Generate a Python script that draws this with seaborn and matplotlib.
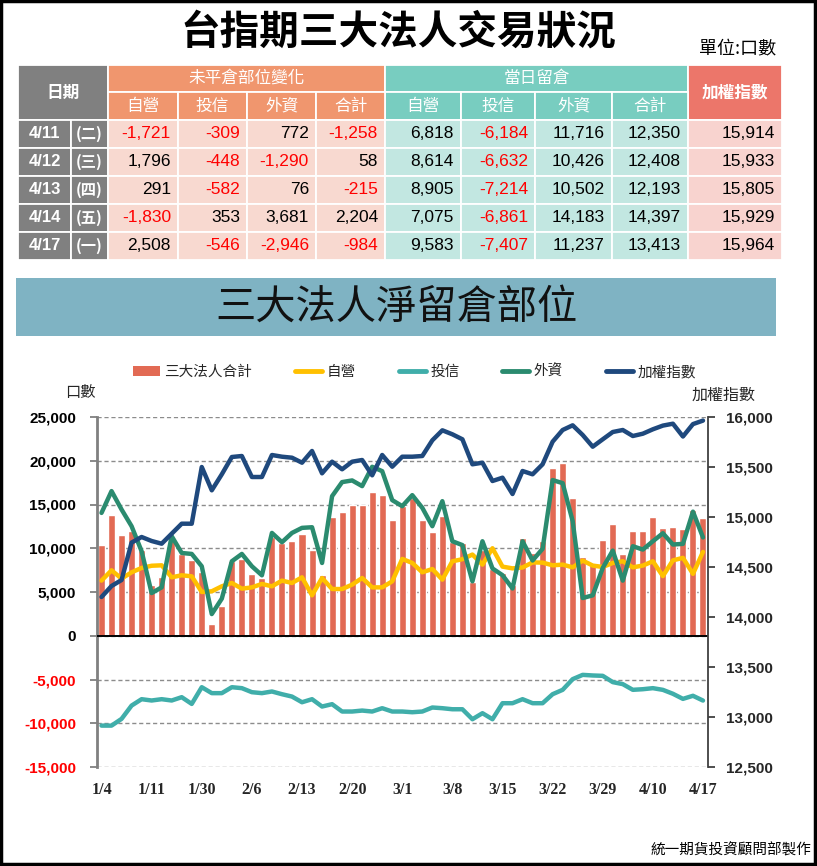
import matplotlib
matplotlib.use("Agg")
import matplotlib.pyplot as plt
import seaborn as sns
from matplotlib.patches import Rectangle, Patch
from matplotlib.lines import Line2D

# ================= DATA =================
dates = ["1/4", "1/5", "1/6", "1/9", "1/10", "1/11", "1/12", "1/13", "1/16", "1/17",
         "1/30", "1/31", "2/1", "2/2", "2/3", "2/6", "2/7", "2/8", "2/9", "2/10",
         "2/13", "2/14", "2/15", "2/16", "2/17", "2/20", "2/21", "2/22", "2/23", "2/24",
         "3/1", "3/2", "3/3", "3/6", "3/7", "3/8", "3/9", "3/10", "3/13", "3/14",
         "3/15", "3/16", "3/17", "3/20", "3/21", "3/22", "3/23", "3/24", "3/27", "3/28",
         "3/29", "3/30", "3/31", "4/6", "4/7", "4/10", "4/11", "4/12", "4/13", "4/14", "4/17"]

# 三大法人合計 (bars)
total_oi = [10400, 13800, 11500, 12000, 9800, 5800, 6700, 11300, 9300, 8700,
            7300, 1300, 3400, 8600, 8800, 7100, 6600, 11300, 10600, 10800,
            11600, 9800, 6900, 13600, 14200, 15000, 15000, 16400, 16100, 13200,
            14800, 15700, 13200, 11900, 13700, 10700, 10600, 6200, 9800, 7600,
            7200, 5800, 11200, 9500, 10800, 19200, 19700, 15700, 9000, 8200,
            11000, 12800, 9400, 12000, 12000, 13600, 12350, 12408, 12193, 14397, 13413]

# 自營
dealer_oi = [6300, 7480, 6530, 7250, 7750, 8000, 8050, 6680, 6910, 6790,
             5000, 5080, 5650, 6030, 5380, 5530, 5920, 5650, 6300, 6030,
             6680, 4620, 6600, 5340, 5340, 5840, 6600, 5530, 5530, 6220,
             8780, 8320, 7250, 7630, 6410, 8510, 8750, 9280, 8130, 10000,
             7900, 7700, 7800, 8380, 8360, 8050, 8130, 7820, 8590, 8020,
             7860, 8320, 8510, 7820, 8020, 8510, 6818, 8614, 8905, 7075, 9583]

# 投信
trust_oi = [-10270, -10270, -9500, -7980, -7250, -7400, -7250, -7400, -7020, -7790,
            -5880, -6560, -6560, -5880, -5990, -6450, -6560, -6370, -6680, -6950,
            -7600, -7250, -8090, -7820, -8660, -8660, -8550, -8660, -8280, -8660,
            -8660, -8740, -8660, -8200, -8280, -8400, -8400, -9540, -8850, -9540,
            -7710, -7710, -7250, -7710, -7710, -6680, -6180, -4960, -4470, -4540,
            -4580, -5300, -5530, -6180, -6110, -5990, -6184, -6632, -7214, -6861, -7407]

# 外資
foreign_oi = [14040, 16530, 14430, 12520, 9660, 4880, 5530, 11380, 9460, 9350,
              7940, 2480, 4240, 8510, 9350, 7940, 6910, 11750, 10690, 11750,
              12330, 12400, 8320, 15950, 17560, 17750, 17100, 19310, 18810, 15500,
              14810, 16070, 14620, 12520, 15380, 10800, 10360, 6220, 10800, 7690,
              6920, 5400, 10800, 8600, 9940, 17790, 17440, 13090, 4310, 4620,
              7750, 9730, 6300, 10230, 9850, 10800, 11716, 10426, 10502, 14183, 11237]

# 加權指數
taiex = [14200, 14310, 14370, 14744, 14800, 14760, 14733, 14833, 14933, 14933,
         15500, 15267, 15427, 15600, 15610, 15400, 15400, 15620, 15603, 15593,
         15543, 15660, 15437, 15553, 15477, 15553, 15570, 15417, 15620, 15503,
         15603, 15603, 15610, 15767, 15867, 15827, 15777, 15527, 15543, 15360,
         15393, 15230, 15460, 15427, 15527, 15753, 15870, 15917, 15820, 15703,
         15777, 15850, 15870, 15810, 15833, 15877, 15914, 15933, 15805, 15929, 15964]

# table
tbl_dates = ["4/11", "4/12", "4/13", "4/14", "4/17"]
tbl_weekdays = ["(二)", "(三)", "(四)", "(五)", "(一)"]
chg_dealer = [-1721, 1796, 291, -1830, 2508]
chg_trust = [-309, -448, -582, 353, -546]
chg_foreign = [772, -1290, 76, 3681, -2946]
chg_total = [-1258, 58, -215, 2204, -984]
oi_dealer = [6818, 8614, 8905, 7075, 9583]
oi_trust = [-6184, -6632, -7214, -6861, -7407]
oi_foreign = [11716, 10426, 10502, 14183, 11237]
oi_total = [12350, 12408, 12193, 14397, 13413]
index_close = [15914, 15933, 15805, 15929, 15964]

sub_headers = ["自營", "投信", "外資", "合計"]

# ================= STYLE =================
sns.set_style("white")
CJK = "Noto Sans CJK TC"
plt.rcParams["font.family"] = [CJK, "DejaVu Sans"]
NUM = ["Liberation Sans Narrow", "Liberation Sans"]

BAR_C = "#E26A54"
DEALER_C = "#FFC000"
TRUST_C = "#40AEAA"
FOREIGN_C = "#2B8B6F"
INDEX_C = "#1F497D"

fig = plt.figure(figsize=(8.17, 8.66), dpi=100)

# background canvas in pixel coords
bg = fig.add_axes([0, 0, 1, 1])
bg.set_xlim(0, 817)
bg.set_ylim(866, 0)
bg.axis("off")

bg.add_patch(Rectangle((1, 1), 814, 863, fill=False, ec="black", lw=2.5))

bg.text(398, 32, "台指期三大法人交易狀況", ha="center", va="center",
        fontsize=28.5, fontweight="bold", color="black")
bg.text(776, 49, "單位:口數", ha="right", va="center", fontsize=13, color="black")

# ================= TABLE =================
col_edges = [18, 71, 108, 178, 247, 316, 385, 461, 535, 612, 688, 782]
row_edges = [65, 92, 120, 148, 176, 204, 232, 260]
GRAY = "#808080"
OR_H, OR_D = "#F0966E", "#F8D9D0"
TE_H, TE_D = "#78CDC0", "#C2E7E1"
IX_H, IX_D = "#EC766A", "#F8D3CF"


def cell(x0, x1, y0, y1, fc):
    bg.add_patch(Rectangle((x0, y0), x1 - x0, y1 - y0, fc=fc, ec="white", lw=1.3))


# headers
cell(col_edges[0], col_edges[2], row_edges[0], row_edges[2], GRAY)
bg.text((col_edges[0] + col_edges[2]) / 2, (row_edges[0] + row_edges[2]) / 2, "日期",
        ha="center", va="center", color="white", fontsize=12, fontweight="bold")
cell(col_edges[2], col_edges[6], row_edges[0], row_edges[1], OR_H)
bg.text((col_edges[2] + col_edges[6]) / 2, (row_edges[0] + row_edges[1]) / 2, "未平倉部位變化",
        ha="center", va="center", color="white", fontsize=12, fontweight="medium")
cell(col_edges[6], col_edges[10], row_edges[0], row_edges[1], TE_H)
bg.text((col_edges[6] + col_edges[10]) / 2, (row_edges[0] + row_edges[1]) / 2, "當日留倉",
        ha="center", va="center", color="white", fontsize=12, fontweight="medium")
cell(col_edges[10], col_edges[11], row_edges[0], row_edges[2], IX_H)
bg.text((col_edges[10] + col_edges[11]) / 2, (row_edges[0] + row_edges[2]) / 2, "加權指數",
        ha="center", va="center", color="white", fontsize=12, fontweight="bold")
for j, name in enumerate(sub_headers):
    for k, fc in ((2, OR_H), (6, TE_H)):
        x0, x1 = col_edges[k + j], col_edges[k + j + 1]
        cell(x0, x1, row_edges[1], row_edges[2], fc)
        bg.text((x0 + x1) / 2, (row_edges[1] + row_edges[2]) / 2, name,
                ha="center", va="center", color="white", fontsize=12, fontweight="medium")

# data rows
columns = [chg_dealer, chg_trust, chg_foreign, chg_total,
           oi_dealer, oi_trust, oi_foreign, oi_total, index_close]
fills = [OR_D] * 4 + [TE_D] * 4 + [IX_D]
for r in range(len(tbl_dates)):
    y0, y1 = row_edges[r + 2], row_edges[r + 3]
    yc = (y0 + y1) / 2
    cell(col_edges[0], col_edges[1], y0, y1, GRAY)
    cell(col_edges[1], col_edges[2], y0, y1, GRAY)
    bg.text((col_edges[0] + col_edges[1]) / 2, yc, tbl_dates[r], ha="center", va="center",
            color="white", fontsize=12, fontweight="bold", family=NUM)
    bg.text((col_edges[1] + col_edges[2]) / 2, yc, tbl_weekdays[r], ha="center", va="center",
            color="white", fontsize=11, fontweight="bold")
    for c, vals in enumerate(columns):
        x0, x1 = col_edges[c + 2], col_edges[c + 3]
        cell(x0, x1, y0, y1, fills[c])
        v = vals[r]
        bg.text(x1 - 7, yc, f"{v:,}", ha="right", va="center", fontsize=12.5,
                family=NUM, color="#FF0000" if v < 0 else "black")

# banner
bg.add_patch(Rectangle((16, 278), 760, 58, fc="#7FB3C3", ec="none"))
bg.text(397, 307, "三大法人淨留倉部位", ha="center", va="center", fontsize=29, color="#111111")

# ================= CHART =================
idx = list(range(len(dates)))
ax1 = fig.add_axes([97 / 817, 1 - 767 / 866, 611 / 817, 350 / 866])
ax1.patch.set_alpha(0)
ax2 = ax1.twinx()

sns.barplot(x=idx, y=total_oi, native_scale=True, color=BAR_C, saturation=1,
            width=0.7, ax=ax1, zorder=2)
sns.lineplot(x=idx, y=dealer_oi, color=DEALER_C, lw=3.2, ax=ax1, zorder=4)
sns.lineplot(x=idx, y=trust_oi, color=TRUST_C, lw=3.2, ax=ax1, zorder=4)
sns.lineplot(x=idx, y=foreign_oi, color=FOREIGN_C, lw=3.2, ax=ax1, zorder=5)
sns.lineplot(x=idx, y=taiex, color=INDEX_C, lw=3.2, ax=ax2, zorder=6)

ax1.set_xlim(-0.45, 60.5)
ax1.set_ylim(-15000, 25000)
ax2.set_ylim(12500, 16000)

left_ticks = list(range(-15000, 25001, 5000))
ax1.set_yticks(left_ticks, labels=[f"{v:,}" for v in left_ticks])
for lab, v in zip(ax1.get_yticklabels(), left_ticks):
    lab.set_color("#FF0000" if v < 0 else "black")
    lab.set_fontfamily("Liberation Sans")
    lab.set_fontweight("bold")
    lab.set_fontsize(11)

right_ticks = list(range(12500, 16001, 500))
ax2.set_yticks(right_ticks, labels=[f"{v:,}" for v in right_ticks])
for lab in ax2.get_yticklabels():
    lab.set_fontfamily("Liberation Sans")
    lab.set_fontweight("bold")
    lab.set_fontsize(11)

ax1.set_xticks(idx[::5], labels=dates[::5])
for lab in ax1.get_xticklabels():
    lab.set_fontfamily("Liberation Serif")
    lab.set_fontweight("bold")
    lab.set_fontsize(11.5)

ax1.set_xlabel("")
ax1.set_ylabel("")
ax2.set_ylabel("")

ax1.yaxis.grid(True, ls=(0, (3, 2)), color="#8C8C8C", lw=1)
ax1.xaxis.grid(False)
ax1.set_axisbelow(True)
ax1.axhline(0, color="black", lw=1.4, zorder=3)

for s in ("top", "bottom", "right"):
    ax1.spines[s].set_visible(False)
ax1.spines["left"].set_color("#808080")
ax1.spines["left"].set_linewidth(2)
for s in ("top", "bottom", "left"):
    ax2.spines[s].set_visible(False)
ax2.spines["right"].set_color("#404040")
ax2.spines["right"].set_linewidth(1.3)

ax1.tick_params(axis="y", direction="out", length=5, width=1.3, color="#808080", pad=10, left=True)
ax1.tick_params(axis="x", length=0, pad=11)
ax2.tick_params(axis="y", direction="out", length=5, width=1.3, color="#404040", pad=8, right=True)

# axis titles
bg.text(80, 392, "口數", ha="center", va="center", fontsize=11)
bg.text(724, 395, "加權指數", ha="center", va="center", fontsize=11.5)

# legend
handles = [Patch(fc=BAR_C, ec="none"),
           Line2D([], [], color=DEALER_C, lw=3.5),
           Line2D([], [], color=TRUST_C, lw=3.5),
           Line2D([], [], color=FOREIGN_C, lw=3.5),
           Line2D([], [], color=INDEX_C, lw=3.5)]
labels = ["三大法人合計", "自營", "投信", "外資", "加權指數"]
fig.legend(handles, labels, loc="center left", bbox_to_anchor=(133 / 817, 1 - 372 / 866),
           ncol=5, frameon=False, fontsize=10.5, handlelength=1.85, handletextpad=0.3,
           columnspacing=2.95, borderpad=0, borderaxespad=0)

bg.text(811, 850, "統一期貨投資顧問部製作", ha="right", va="center", fontsize=10.5, color="black")

fig.savefig("out.png", dpi=100)
plt.close(fig)
